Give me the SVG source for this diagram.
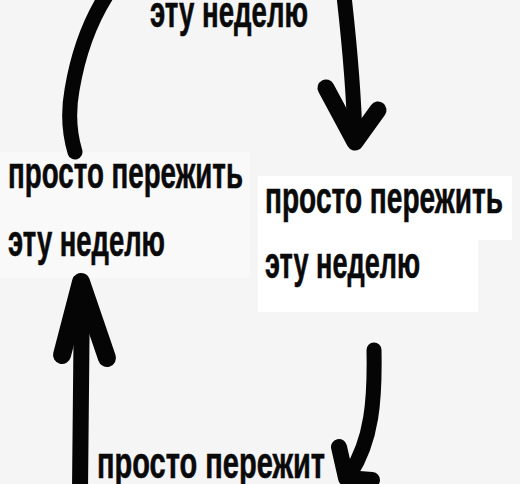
<svg xmlns="http://www.w3.org/2000/svg" width="520" height="484" viewBox="0 0 520 484">
  <defs>
    <style>
      .t { font-family: "Liberation Sans Narrow", "Liberation Sans", "DejaVu Sans Condensed", sans-serif; font-weight: bold; font-size: 44px; fill: #0a0a0a; stroke: #0a0a0a; stroke-width: 0.6px; }
      .stroke { fill: none; stroke: #050505; stroke-linecap: round; stroke-linejoin: round; }
    </style>
  </defs>
  <rect x="0" y="0" width="520" height="484" fill="#f5f5f5"/>
  <rect x="0" y="152" width="250" height="126" fill="#f9f9f9"/>
  <path d="M258,176 H512 V240 H478 V312 H258 Z" fill="#ffffff"/>

  <g id="connectors">
    <path class="stroke" stroke-width="15" d="M75,152 C69,132 68,112 72,90 C77,60 86,28 106,-4"/>
    <path class="stroke" stroke-width="15" d="M344,-4 C349,40 354,95 355,140"/>
    <path class="stroke" stroke-width="17" d="M326,88 L355,142 L378,110"/>
    <path class="stroke" stroke-width="16" d="M80,490 L82,288"/>
    <path class="stroke" stroke-width="18" d="M62,355 L81,282 L107,358"/>
    <path class="stroke" stroke-width="15" d="M374,350 C375,400 372,440 350,474"/>
  </g>

  <g id="node-top">
    <text class="t" x="150" y="27" textLength="158" lengthAdjust="spacingAndGlyphs">эту неделю</text>
  </g>
  <g id="node-left">
    <text class="t" x="8" y="188" textLength="235" lengthAdjust="spacingAndGlyphs">просто пережить</text>
    <text class="t" x="8" y="256" textLength="157" lengthAdjust="spacingAndGlyphs">эту неделю</text>
  </g>
  <g id="node-right">
    <text class="t" x="265" y="213" textLength="238" lengthAdjust="spacingAndGlyphs">просто пережить</text>
    <text class="t" x="265" y="278" textLength="155" lengthAdjust="spacingAndGlyphs">эту неделю</text>
  </g>
  <g id="node-bottom">
    <text class="t" x="97" y="478" textLength="228" lengthAdjust="spacingAndGlyphs">просто пережит</text>
  </g>
  <path class="stroke" stroke-width="16" d="M339,447 L346,478 L372,480"/>
</svg>
